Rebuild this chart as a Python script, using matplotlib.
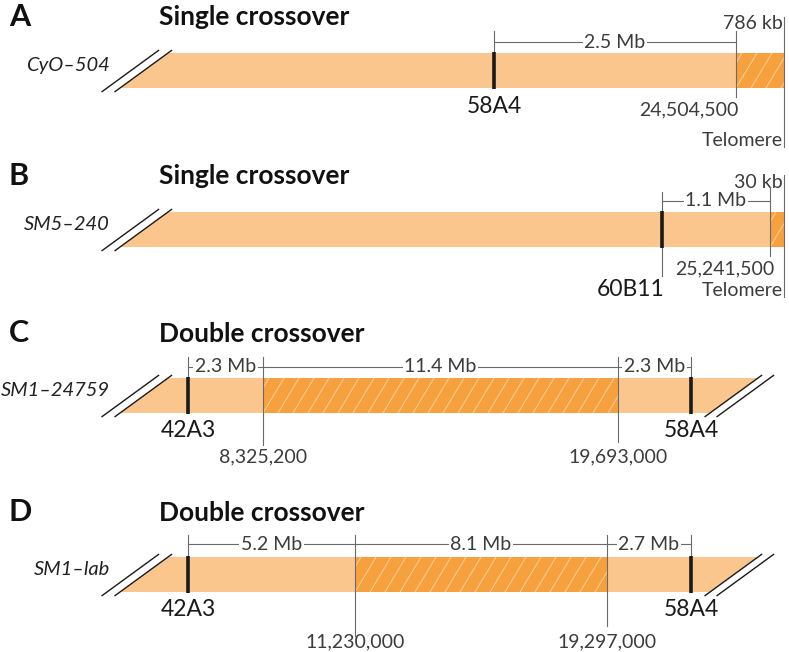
import matplotlib.pyplot as plt
from matplotlib.patches import Polygon, Rectangle

plt.rcParams['font.family'] = ['Lato', 'DejaVu Sans']

# ---- data (schematic positions along the chromosome, drawing units) ----
letters = ['A', 'B', 'C', 'D']
titles = ['Single crossover', 'Single crossover', 'Double crossover', 'Double crossover']
strains = ['CyO\u2013504', 'SM5\u2013240', 'SM1\u201324759', 'SM1\u2013lab']

marker_names = [['58A4'], ['60B11'], ['42A3', '58A4'], ['42A3', '58A4']]
marker_x = [[494], [662], [188, 691], [188, 691]]

break_names = [['24,504,500', 'Telomere'], ['25,241,500', 'Telomere'],
               ['8,325,200', '19,693,000'], ['11,230,000', '19,297,000']]
break_x = [[736, 784], [770, 784], [263, 618], [355, 607]]

span_names = [['2.5 Mb', '786 kb'], ['1.1 Mb', '30 kb'],
              ['2.3 Mb', '11.4 Mb', '2.3 Mb'], ['5.2 Mb', '8.1 Mb', '2.7 Mb']]

# ---- layout ----
bar_top = [53, 212, 378, 557]
bar_h = 35
bar_x0, bar_x1_slant = 120, 710
slant = 48
light = '#fac68e'
dark = '#f7a13e'
gray = '#6a6a6a'

num_kw = dict(fontsize=14, color='#3c3c3c')
mk_kw = dict(fontsize=16.5, color='#1a1a1a')

fig = plt.figure(figsize=(7.89, 6.52), dpi=100)
ax = fig.add_axes([0, 0, 1, 1])
ax.set_xlim(0, 789)
ax.set_ylim(652, 0)
ax.axis('off')


def slashes(xb, top, bot, side):
    k = slant / bar_h
    y0, y1 = bot + 4, top - 3
    for off in ([-13, 0] if side == 'left' else [0, 12]):
        ax.plot([xb - 4 * k + off, xb + (bot - top + 3) * k + off], [y0, y1],
                color='#1a1a1a', lw=1.0, solid_capstyle='butt')


def vline(x, y0, y1):
    ax.plot([x, x], [y0, y1], color=gray, lw=0.8, zorder=5)


def span_text(x, y, s, ha='center'):
    ax.text(x, y, s, ha=ha, va='center', zorder=4,
            bbox=dict(fc='white', ec='none', pad=1.2), **num_kw)


def hatched(x0, x1, top, bot):
    rect = Rectangle((x0, top), x1 - x0, bot - top, fc=dark, ec='none', zorder=2)
    ax.add_patch(rect)
    step, lean = 15, 21
    x = x0 - lean + 6
    while x < x1:
        ln, = ax.plot([x, x + lean], [bot, top], color='white', alpha=0.5,
                      lw=0.7, zorder=2.5)
        ln.set_clip_path(rect)
        x += step


for i in range(4):
    top = bar_top[i]
    bot = top + bar_h
    mid = top + bar_h / 2
    double = i >= 2
    dim_y = top - 11

    ax.text(9, top - 27 if not double else top - 36, letters[i], fontsize=22,
            fontweight='bold', va='baseline', color='#111111')
    ax.text(159, top - 28 if not double else top - 36, titles[i], fontsize=19,
            fontweight='bold', va='baseline', color='#111111')
    ax.text(110, mid - 5, strains[i], fontsize=14.5, style='italic',
            ha='right', va='center', color='#222222')

    if double:
        xr = bar_x1_slant
        poly = [(bar_x0, bot), (bar_x0 + slant, top), (xr + slant, top), (xr, bot)]
    else:
        xr = break_x[i][1]
        poly = [(bar_x0, bot), (bar_x0 + slant, top), (xr, top), (xr, bot)]
    ax.add_patch(Polygon(poly, closed=True, fc=light, ec='none', zorder=1))
    bx0, bx1 = break_x[i]
    hatched(bx0, bx1, top, bot)
    slashes(bar_x0, top, bot, 'left')
    if double:
        slashes(xr, top, bot, 'right')

    # chromosome band markers
    for name, mx in zip(marker_names[i], marker_x[i]):
        ax.plot([mx, mx], [top - 1, bot + 1], color='#1a1a1a', lw=2.6,
                solid_capstyle='butt', zorder=6)

    if i == 0:
        m = marker_x[i][0]
        vline(m, top - 22, top)
        vline(bx0, top - 22, bot + 9)
        vline(bx1, top - 36, bot + 59)
        ax.plot([m, bx0], [dim_y, dim_y], color=gray, lw=0.8, zorder=3)
        span_text((m + bx0) / 2, dim_y, span_names[i][0])
        ax.text(bx1 - 1, top - 24, span_names[i][1], ha='right', va='baseline', **num_kw)
        ax.text(m, bot + 25, marker_names[i][0], ha='center', va='baseline', **mk_kw)
        ax.text(bx0 + 3, bot + 27, break_names[i][0], ha='right', va='baseline', **num_kw)
        ax.text(bx1 - 1, bot + 58, break_names[i][1], ha='right', va='baseline', **num_kw)
    elif i == 1:
        m = marker_x[i][0]
        vline(m, top - 20, bot + 29)
        vline(bx0, top - 25, bot + 9)
        vline(bx1, top - 37, bot + 50)
        ax.plot([m, bx0], [dim_y, dim_y], color=gray, lw=0.8, zorder=3)
        span_text((m + bx0) / 2, dim_y, span_names[i][0])
        ax.text(bx1 - 1, top - 24, span_names[i][1], ha='right', va='baseline', **num_kw)
        ax.text(m + 3, bot + 49, marker_names[i][0], ha='right', va='baseline', **mk_kw)
        ax.text(bx0 + 4, bot + 27, break_names[i][0], ha='right', va='baseline', **num_kw)
        ax.text(bx1 - 1, bot + 49, break_names[i][1], ha='right', va='baseline', **num_kw)
    else:
        m0, m1 = marker_x[i]
        dim_y = top - 11 if i == 2 else top - 13
        vtop = top - 21 if i == 2 else top - 22
        vline(m0, vtop, top)
        vline(m1, vtop, top)
        low = [bot + 32, bot + 29] if i == 2 else [bot + 44, bot + 34]
        vline(bx0, vtop, low[0])
        vline(bx1, vtop, low[1])
        ax.plot([m0, m1], [dim_y, dim_y], color=gray, lw=0.8, zorder=3)
        pts = [m0, bx0, bx1, m1]
        for k, s in enumerate(span_names[i]):
            span_text((pts[k] + pts[k + 1]) / 2, dim_y, s)
        for name, mx in zip(marker_names[i], marker_x[i]):
            ax.text(mx, bot + 24, name, ha='center', va='baseline', **mk_kw)
        for name, x in zip(break_names[i], break_x[i]):
            ax.text(x, bot + 49 if i == 2 else bot + 55, name, ha='center',
                    va='baseline', **num_kw)

fig.savefig('out.png', dpi=100)
